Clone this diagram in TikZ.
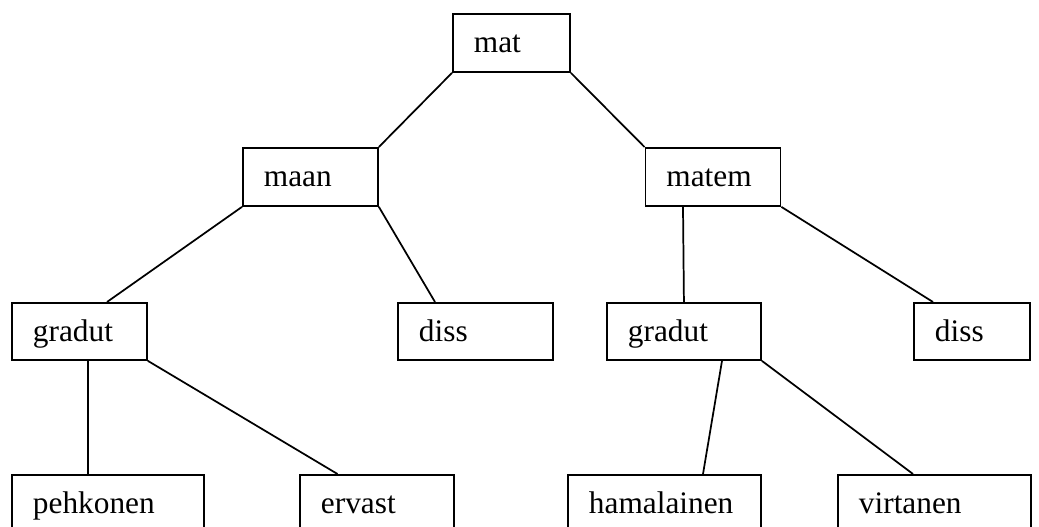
\documentclass[tikz,border=0pt]{standalone}
\usepackage{fontspec}
\setmainfont{Liberation Serif}
\usetikzlibrary{calc}
\begin{document}
\begin{tikzpicture}[x=0.75pt,y=-0.75pt,
  box/.style={draw,line width=1.4pt,inner ysep=0pt,inner xsep=15.75pt,align=left,
    anchor=north west,text height=29.25pt,text depth=14.25pt,
    font=\fontsize{23.5}{28}\selectfont},
  link/.style={line width=1.3pt}]
\useasboundingbox (0,0) rectangle (1039,527);
\clip (0,0) rectangle (1039,527);
% level 0
\node[box,text width=56.25pt] (mat) at (452,13) {mat};
% level 1
\node[box,text width=69.75pt] (maan) at (242,147) {maan};
\node[box,text width=69.75pt] (matem) at (644.5,147) {matem};
% level 2
\node[box,text width=69.75pt,text depth=13.5pt] (g1) at (11,302) {gradut};
\node[box,text width=84.75pt,text depth=13.5pt] (d1) at (397,302) {diss};
\node[box,text width=84pt,text depth=13.5pt] (g2) at (606,302) {gradut};
\node[box,text width=55.5pt,text depth=13.5pt] (d2) at (913,302) {diss};
% level 3
\node[box,text width=112.5pt,text depth=15pt] (pe) at (11,474) {pehkonen};
\node[box,text width=84pt,text depth=15pt] (er) at (299,474) {ervast};
\node[box,text width=113.25pt,text depth=15pt] (ha) at (567,474) {hamalainen};
\node[box,text width=113.25pt,text depth=15pt] (vi) at (837,474) {virtanen};
% connectors
\draw[link] (mat.south west) -- (maan.north east);
\draw[link] (mat.south east) -- (matem.north west);
\draw[link] (maan.south west) -- ($(g1.north west)+(96,0)$);
\draw[link] (maan.south east) -- ($(d1.north west)+(38,0)$);
\draw[link] ($(matem.south west)+(38.5,0)$) -- (g2.north);
\draw[link] (matem.south east) -- ($(d2.north west)+(20,0)$);
\draw[link] ($(g1.south west)+(77,0)$) -- ($(pe.north west)+(77,0)$);
\draw[link] (g1.south east) -- ($(er.north west)+(38.5,0)$);
\draw[link] ($(g2.south west)+(116,0)$) -- ($(ha.north west)+(136,0)$);
\draw[link] (g2.south east) -- ($(vi.north west)+(76,0)$);
\end{tikzpicture}
\end{document}
